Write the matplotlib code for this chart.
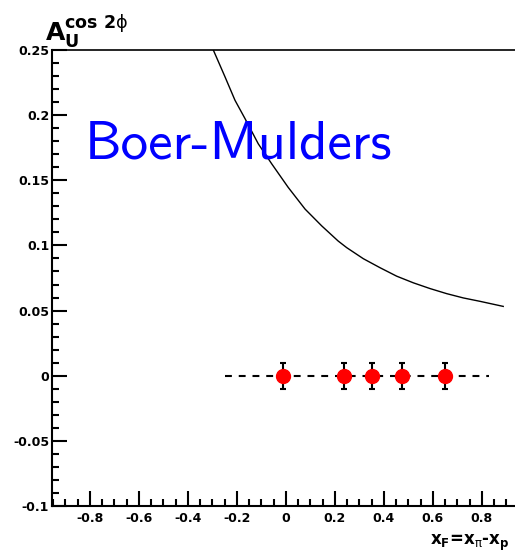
import os
import numpy as np
import matplotlib
matplotlib.use('Agg')
import matplotlib.pyplot as plt
from matplotlib.ticker import MultipleLocator, FuncFormatter
from matplotlib.font_manager import FontProperties

plt.rcParams['font.family'] = 'DejaVu Sans'
plt.rcParams['axes.unicode_minus'] = False
plt.rcParams['mathtext.fontset'] = 'dejavusans'

# Boer-Mulders prediction curve
curve_xf = [-0.300, -0.249, -0.208, -0.167, -0.113, -0.058, 0.009, 0.078, 0.146,
            0.213, 0.248, 0.316, 0.384, 0.452, 0.520, 0.588, 0.656, 0.724, 0.792, 0.887]
curve_a = [0.2515, 0.2295, 0.2114, 0.1973, 0.1780, 0.1626, 0.1446, 0.1279, 0.1150,
           0.1034, 0.0983, 0.0898, 0.0829, 0.0764, 0.0713, 0.0669, 0.0630, 0.0597, 0.0571, 0.0532]

# projected points with statistical errors
pts_xf = [-0.013, 0.237, 0.352, 0.475, 0.649]
pts_a = [0.0, 0.0, 0.0, 0.0, 0.0]
pts_err = [0.01, 0.01, 0.01, 0.01, 0.01]

# zero reference line range
zero_xf = [-0.25, 0.83]
zero_a = [0.0, 0.0]

fig = plt.figure(figsize=(5.15, 5.53), dpi=100)
ax = fig.add_axes([52/515, 47/553, 1 - 52/515, 456/553])

ax.plot(curve_xf, curve_a, color='black', lw=1.0, clip_on=True)
ax.plot(zero_xf, zero_a, color='black', lw=1.5, dashes=(3.3, 3.3))
ax.errorbar(pts_xf, pts_a, yerr=pts_err, fmt='o', color='red', markersize=10,
            ecolor='black', elinewidth=1.5, capsize=2.5, capthick=1.5, zorder=5)

# computer modern sans shipped with matplotlib
cmss = FontProperties(fname=os.path.join(matplotlib.get_data_path(), 'fonts', 'ttf', 'cmss10.ttf'),
                      size=39.5)
ax.text(-0.82, 0.1665, 'Boer-Mulders', color='blue', fontproperties=cmss)

ax.set_xlim(-0.955, 0.935)
ax.set_ylim(-0.1, 0.25)

ax.xaxis.set_major_locator(MultipleLocator(0.2))
ax.xaxis.set_minor_locator(MultipleLocator(0.05))
ax.yaxis.set_major_locator(MultipleLocator(0.05))
ax.yaxis.set_minor_locator(MultipleLocator(0.01))

fmt = FuncFormatter(lambda v, p: '%g' % round(v, 3) if abs(v) > 1e-9 else '0')
ax.xaxis.set_major_formatter(fmt)
ax.yaxis.set_major_formatter(fmt)

ax.tick_params(which='both', direction='in', top=False, right=False, width=1.5)
ax.tick_params(which='major', length=11)
ax.tick_params(which='minor', length=5)
ax.tick_params(axis='x', pad=4)
ax.tick_params(axis='y', pad=2)
for lab in ax.get_xticklabels() + ax.get_yticklabels():
    lab.set_fontweight('bold')
    lab.set_fontsize(9)

ax.spines['right'].set_visible(False)
ax.spines['left'].set_linewidth(1.5)
ax.spines['bottom'].set_linewidth(1.5)
ax.spines['top'].set_linewidth(1.2)

# axis titles placed like ROOT does
fig.text(45/515, 1 - 40/553, r'$\mathbf{A}_{\mathbf{U}}^{\mathbf{cos\ 2}\mathrm{\phi}}$',
         fontsize=18, va='baseline', ha='left')
fig.text(430/515, 1 - 545/553, r'x$_\mathbf{F}$=x$_\mathrm{\pi}$-x$_\mathbf{p}$',
         fontsize=12, fontweight='bold', va='baseline', ha='left')

fig.savefig('out.png', dpi=100)
